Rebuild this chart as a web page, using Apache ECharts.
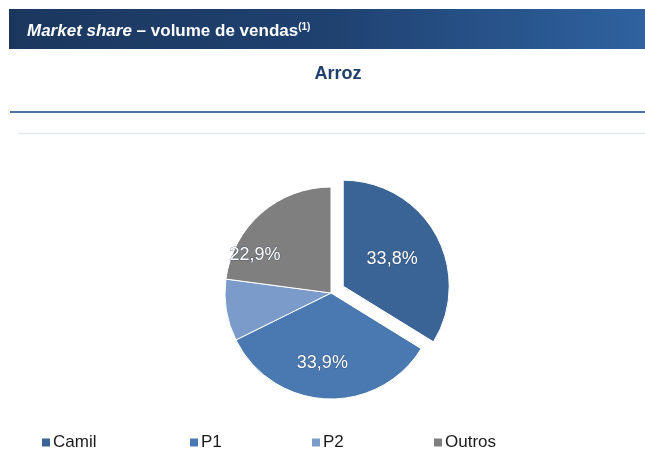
<!DOCTYPE html>
<html lang="en">
<head>
    <meta charset="UTF-8">
    <title>Market share - Arroz</title>
</head>
<script src="https://cdn.jsdelivr.net/npm/echarts@6/dist/echarts.min.js"></script>
<body style="margin:0;background:#fff;">
<div id="main" style="width: 645px;height:453px;"></div>

<script type="text/javascript">
    // dados do gráfico
    var categorias = ['Camil', 'P1', 'P2', 'Outros'];
    var valores = [33.8, 33.9, 9.4, 22.9];
    var cores = ['#3a6496', '#4a78b0', '#7b9ccb', '#7f7f7f'];
    var rotulos = ['33,8%', '33,9%', '', '22,9%'];
    // deslocamento dos rótulos (Excel "best fit")
    var desloc = [[4, 8], [-6, 14], [0, 0], [-39, 4]];
    // posição de cada item da legenda
    var legendaX = [35, 183, 305, 427];

    var myChart = echarts.init(document.getElementById('main'));

    var dados = [];
    categorias.forEach(function (c, i) {
        dados.push({
            name: c,
            value: valores[i],
            selected: i === 0,
            itemStyle: {color: cores[i]},
            label: {offset: desloc[i], formatter: rotulos[i]}
        });
    });

    var fonte = '"Liberation Sans", sans-serif';

    var legendas = categorias.map(function (c, i) {
        return {
            data: [c],
            left: legendaX[i],
            top: 429,
            itemWidth: 10,
            itemHeight: 10,
            icon: 'rect',
            selectedMode: false,
            textStyle: {color: '#1a1a1a', fontFamily: fonte, fontSize: 17, padding: [0, 0, 0, -3]}
        };
    });

    myChart.setOption({
        animation: false,
        graphic: [
            {
                type: 'rect',
                shape: {x: 9, y: 9, width: 636, height: 40},
                style: {
                    fill: new echarts.graphic.LinearGradient(0, 0, 1, 0, [
                        {offset: 0, color: '#1b375e'},
                        {offset: 0.5, color: '#1f4170'},
                        {offset: 1, color: '#2f62a0'}
                    ])
                }
            },
            {
                type: 'line',
                shape: {x1: 10, y1: 112, x2: 645, y2: 112},
                style: {stroke: '#4f73a0', lineWidth: 2}
            },
            {
                type: 'line',
                shape: {x1: 18, y1: 133.5, x2: 645, y2: 133.5},
                style: {stroke: '#e3e8ef', lineWidth: 1.5}
            }
        ],
        title: [
            {
                text: '{i|Market share} – volume de vendas{s|(1)}',
                left: 22,
                top: 17,
                textStyle: {
                    color: '#ffffff',
                    fontFamily: fonte,
                    fontSize: 17,
                    fontWeight: 'bold',
                    rich: {
                        i: {color: '#ffffff', fontFamily: fonte, fontSize: 17, fontWeight: 'bold', fontStyle: 'italic'},
                        s: {color: '#ffffff', fontFamily: fonte, fontSize: 10, fontWeight: 'bold', verticalAlign: 'top', padding: [0, 0, 8, 0]}
                    }
                }
            },
            {
                text: 'Arroz',
                left: 333,
                textAlign: 'center',
                top: 60,
                textStyle: {color: '#1f3f6e', fontFamily: fonte, fontSize: 18, fontWeight: 'bold'}
            }
        ],
        legend: legendas,
        series: [{
            name: 'Arroz',
            type: 'pie',
            center: [331, 293],
            radius: 106,
            startAngle: 90,
            clockwise: true,
            selectedMode: 'single',
            selectedOffset: 14,
            data: dados,
            itemStyle: {borderColor: '#ffffff', borderWidth: 1},
            label: {
                show: true,
                position: 'inside',
                color: '#ffffff',
                fontFamily: fonte,
                fontSize: 18,
                textBorderColor: 'rgba(40,60,90,0.5)',
                textBorderWidth: 1
            },
            labelLine: {show: false},
            emphasis: {disabled: true}
        }]
    });
</script>

</body>
</html>
